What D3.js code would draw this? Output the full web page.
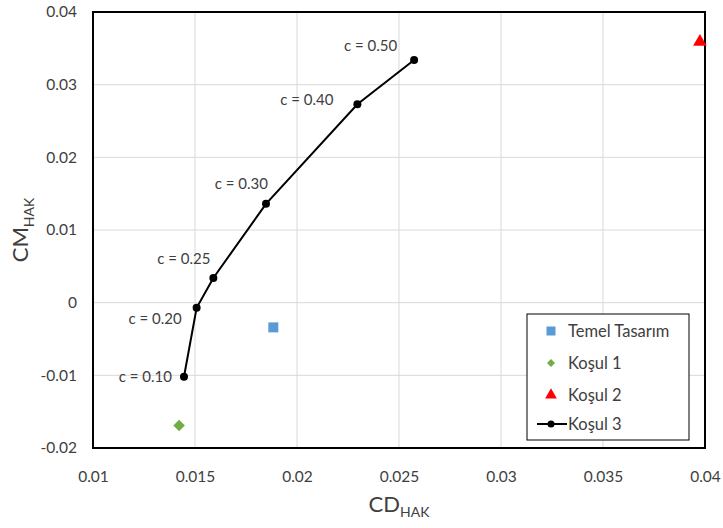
<!DOCTYPE html>
<html>
<head>
<meta charset="utf-8">
<script src="https://cdn.jsdelivr.net/npm/d3@7"></script>
<style>
  body { margin: 0; background: #fff; }
  text { font-family: Lato, "Open Sans", sans-serif; fill: #404040; }
</style>
</head>
<body>
<div id="chart"></div>
<script>
// data
var kosul3CD = [0.01446, 0.01508, 0.0159, 0.01848, 0.02296, 0.02574];
var kosul3CM = [-0.0102, -0.0007, 0.0034, 0.0136, 0.0273, 0.0334];
var kosul3Labels = ["c = 0.10", "c = 0.20", "c = 0.25", "c = 0.30", "c = 0.40", "c = 0.50"];
var temelCD = [0.01884];
var temelCM = [-0.0034];
var kosul1CD = [0.01422];
var kosul1CM = [-0.0169];
var kosul2CD = [0.03975];
var kosul2CM = [0.0359];
var xTicks = [0.01, 0.015, 0.02, 0.025, 0.03, 0.035, 0.04];
var yTicks = [-0.02, -0.01, 0, 0.01, 0.02, 0.03, 0.04];

// where each data label sits relative to its point (text-anchor end)
var labelShift = [[-12, 5], [-15, 16], [-3, -14], [2, -15], [-24, 1], [-17, -9]];

var W = 723, H = 528;
var margin = {top: 12, right: 18, bottom: 80, left: 93};
var width = W - margin.left - margin.right;
var height = H - margin.top - margin.bottom;

var svg = d3.select("#chart").append("svg")
    .attr("width", W)
    .attr("height", H);

var g = svg.append("g")
    .attr("transform", "translate(" + margin.left + "," + margin.top + ")");

var x = d3.scaleLinear().domain([0.01, 0.04]).range([0, width]);
var y = d3.scaleLinear().domain([-0.02, 0.04]).range([height, 0]);

// grid
g.append("g").selectAll("line.gx")
    .data(xTicks)
  .enter().append("line")
    .attr("x1", function(d) { return x(d); })
    .attr("x2", function(d) { return x(d); })
    .attr("y1", 0).attr("y2", height)
    .attr("stroke", "#d9d9d9").attr("stroke-width", 1);
g.append("g").selectAll("line.gy")
    .data(yTicks)
  .enter().append("line")
    .attr("y1", function(d) { return y(d); })
    .attr("y2", function(d) { return y(d); })
    .attr("x1", 0).attr("x2", width)
    .attr("stroke", "#d9d9d9").attr("stroke-width", 1);

// axes (labels only, frame drawn separately)
var xAxis = g.append("g")
    .attr("transform", "translate(0," + height + ")")
    .call(d3.axisBottom(x).tickValues(xTicks).tickSize(0).tickPadding(23)
      .tickFormat(function(d) { return String(+d.toFixed(3)); }));
var yAxis = g.append("g")
    .call(d3.axisLeft(y).tickValues(yTicks).tickSize(0).tickPadding(16)
      .tickFormat(function(d) { return String(+d.toFixed(2)); }));
[xAxis, yAxis].forEach(function(a) {
  a.select(".domain").remove();
  a.selectAll("text")
    .style("font-family", "Lato, 'Open Sans', sans-serif")
    .style("font-size", "15.5px")
    .attr("fill", "#404040");
});

// frame
g.append("rect")
    .attr("width", width).attr("height", height)
    .attr("fill", "none").attr("stroke", "#000").attr("stroke-width", 2);

// Koşul 3 line
var pts = kosul3CD.map(function(d, i) { return [d, kosul3CM[i]]; });
g.append("path")
    .datum(pts)
    .attr("fill", "none")
    .attr("stroke", "#000")
    .attr("stroke-width", 2)
    .attr("d", d3.line().x(function(d) { return x(d[0]); }).y(function(d) { return y(d[1]); }));
g.selectAll("circle.k3")
    .data(pts)
  .enter().append("circle")
    .attr("cx", function(d) { return x(d[0]); })
    .attr("cy", function(d) { return y(d[1]); })
    .attr("r", 4)
    .attr("fill", "#000");
g.selectAll("text.lbl")
    .data(pts)
  .enter().append("text")
    .attr("x", function(d, i) { return x(d[0]) + labelShift[i][0]; })
    .attr("y", function(d, i) { return y(d[1]) + labelShift[i][1]; })
    .attr("text-anchor", "end")
    .style("font-size", "15px")
    .text(function(d, i) { return kosul3Labels[i]; });

// Temel Tasarım
g.selectAll("rect.temel")
    .data(temelCD)
  .enter().append("rect")
    .attr("x", function(d) { return x(d) - 5; })
    .attr("y", function(d, i) { return y(temelCM[i]) - 5; })
    .attr("width", 10).attr("height", 10)
    .attr("fill", "#5b9bd5");

// Koşul 1
var diamond = d3.symbol().type(d3.symbolDiamond2).size(85);
g.selectAll("path.k1")
    .data(kosul1CD)
  .enter().append("path")
    .attr("d", diamond)
    .attr("transform", function(d, i) { return "translate(" + x(d) + "," + y(kosul1CM[i]) + ")"; })
    .attr("fill", "#70ad47");

// Koşul 2
var tri = d3.symbol().type(d3.symbolTriangle).size(80);
g.selectAll("path.k2")
    .data(kosul2CD)
  .enter().append("path")
    .attr("d", tri)
    .attr("transform", function(d, i) { return "translate(" + x(d) + "," + y(kosul2CM[i]) + ")"; })
    .attr("fill", "#ff0000");

// axis titles
var xt = svg.append("text")
    .attr("x", margin.left + width / 2)
    .attr("y", 512)
    .attr("text-anchor", "middle")
    .style("font-size", "22px");
xt.append("tspan").text("CD");
xt.append("tspan").attr("dy", 5).style("font-size", "14px").text("HAK");

var yt = svg.append("text")
    .attr("transform", "translate(28," + (margin.top + height / 2) + ") rotate(-90)")
    .attr("text-anchor", "middle")
    .style("font-size", "22px");
yt.append("tspan").text("CM");
yt.append("tspan").attr("dy", 6).style("font-size", "14px").text("HAK");

// legend
var leg = svg.append("g").attr("transform", "translate(527,314)");
leg.append("rect")
    .attr("width", 162).attr("height", 126)
    .attr("fill", "#fff").attr("stroke", "#000").attr("stroke-width", 1);
var legItems = ["Temel Tasarım", "Koşul 1", "Koşul 2", "Koşul 3"];
var legY = [17, 49, 81, 110];
legItems.forEach(function(name, i) {
  var row = leg.append("g").attr("transform", "translate(24," + legY[i] + ")");
  if (i === 0) {
    row.append("rect").attr("x", -4.5).attr("y", -4.5).attr("width", 9).attr("height", 9).attr("fill", "#5b9bd5");
  } else if (i === 1) {
    row.append("path").attr("d", d3.symbol().type(d3.symbolDiamond2).size(40)).attr("fill", "#70ad47");
  } else if (i === 2) {
    row.append("path").attr("d", d3.symbol().type(d3.symbolTriangle).size(60)).attr("fill", "#ff0000");
  } else {
    row.append("line").attr("x1", -14).attr("x2", 16).attr("stroke", "#000").attr("stroke-width", 2);
    row.append("circle").attr("r", 3.5).attr("fill", "#000");
  }
  row.append("text")
    .attr("x", 17)
    .attr("dy", "0.35em")
    .style("font-size", "16.5px")
    .text(name);
});
</script>
</body>
</html>
